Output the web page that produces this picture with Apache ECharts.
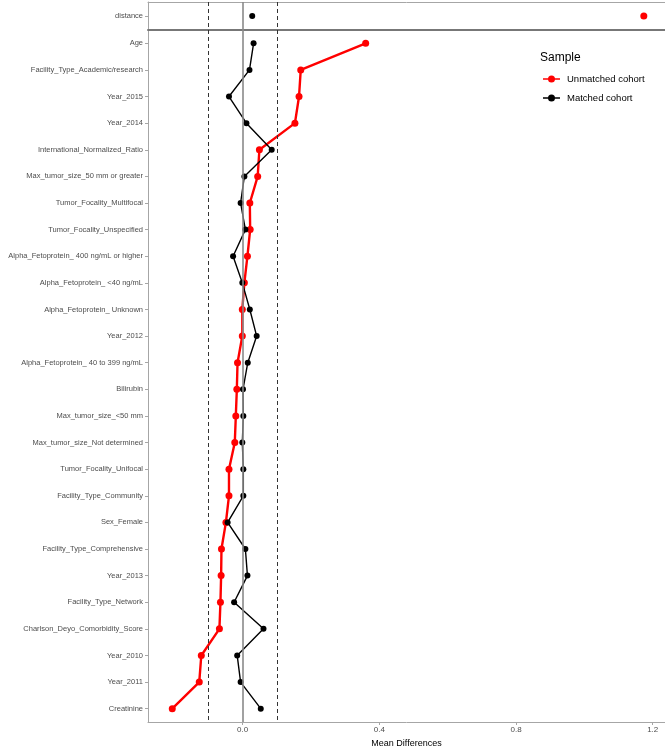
<!DOCTYPE html>
<html>
<head>
<meta charset="utf-8">
<script src="https://cdn.jsdelivr.net/npm/echarts@6/dist/echarts.min.js"></script>
<style>
  html, body { margin: 0; padding: 0; background: #fff; }
  #chart { width: 665px; height: 753px; }
</style>
</head>
<body>
<div id="chart"></div>
<script>
// Covariates, listed top to bottom
const covariates = [
  'Age',
  'Facility_Type_Academic/research',
  'Year_2015',
  'Year_2014',
  'International_Normalized_Ratio',
  'Max_tumor_size_50 mm or greater',
  'Tumor_Focality_Multifocal',
  'Tumor_Focality_Unspecified',
  'Alpha_Fetoprotein_ 400 ng/mL or higher',
  'Alpha_Fetoprotein_ <40 ng/mL',
  'Alpha_Fetoprotein_ Unknown',
  'Year_2012',
  'Alpha_Fetoprotein_ 40 to 399 ng/mL',
  'Bilirubin',
  'Max_tumor_size_<50 mm',
  'Max_tumor_size_Not determined',
  'Tumor_Focality_Unifocal',
  'Facility_Type_Community',
  'Sex_Female',
  'Facility_Type_Comprehensive',
  'Year_2013',
  'Facility_Type_Network',
  'Charlson_Deyo_Comorbidity_Score',
  'Year_2010',
  'Year_2011',
  'Creatinine'
];

// Mean differences before matching
const unmatched = [
  0.360, 0.170, 0.165, 0.153, 0.049, 0.044, 0.021, 0.022, 0.014, 0.005,
  -0.001, -0.001, -0.015, -0.017, -0.020, -0.023, -0.040, -0.040, -0.049,
  -0.062, -0.063, -0.065, -0.068, -0.121, -0.127, -0.206
];

// Mean differences after matching
const matched = [
  0.032, 0.020, -0.040, 0.011, 0.085, 0.005, -0.006, 0.008, -0.028, -0.001,
  0.021, 0.041, 0.015, 0.001, 0.002, -0.001, 0.002, 0.002, -0.044,
  0.008, 0.014, -0.025, 0.061, -0.016, -0.006, 0.053
];

// Propensity score distance row
const distanceLabel = ['distance'];
const distanceUnmatched = [1.174];
const distanceMatched = [0.028];

const xTicks = [0, 0.4, 0.8, 1.2];
const threshold = 0.1;

const xMin = -0.277, xMax = 1.236;
const RED = '#ff0000', BLACK = '#000000';
const AXIS_GREY = '#a6a6a6';
const LABEL_GREY = '#4d4d4d';
const FONT = 'Liberation Sans, Arial, sans-serif';

function refLines() {
  return {
    silent: true,
    symbol: 'none',
    label: { show: false },
    animation: false,
    data: [
      { xAxis: -threshold, lineStyle: { color: '#333', type: [4, 3], width: 1 } },
      { xAxis: threshold, lineStyle: { color: '#333', type: [4, 3], width: 1 } },
      { xAxis: 0, lineStyle: { color: '#8a8a8a', type: 'solid', width: 1.6 } }
    ]
  };
}

// Legend key: short line with a point in the middle
const legendIcon = 'path://M0,4.2L17,4.2L17,5.8L0,5.8Z M5,5a3.5,3.5 0 1,1 7,0a3.5,3.5 0 1,1 -7,0Z';

const chart = echarts.init(document.getElementById('chart'), null, { renderer: 'canvas' });

chart.setOption({
  animation: false,
  backgroundColor: '#ffffff',
  title: {
    text: 'Sample',
    left: 540,
    top: 52,
    padding: 0,
    textStyle: { fontFamily: FONT, fontSize: 12, fontWeight: 'normal', color: '#000' }
  },
  legend: {
    orient: 'vertical',
    left: 543,
    top: 74,
    padding: 0,
    itemWidth: 17,
    itemHeight: 10,
    itemGap: 9,
    data: [
      { name: 'Unmatched cohort', icon: legendIcon, itemStyle: { color: RED, opacity: 1 } },
      { name: 'Matched cohort', icon: legendIcon, itemStyle: { color: BLACK, opacity: 1 } }
    ],
    textStyle: { fontFamily: FONT, fontSize: 9.5, color: '#000', padding: [0, 0, 0, 2] }
  },
  grid: [
    { left: 148, right: 0, top: 2, height: 28 },
    { left: 148, right: 0, top: 30, bottom: 31 }
  ],
  xAxis: [
    {
      gridIndex: 0, type: 'value', min: xMin, max: xMax, position: 'top',
      axisLine: { show: true, onZero: false, lineStyle: { color: AXIS_GREY, width: 1 } },
      axisTick: { show: false },
      axisLabel: { show: false }, splitLine: { show: false }
    },
    {
      gridIndex: 1, type: 'value', min: xMin, max: xMax, position: 'bottom',
      name: 'Mean Differences', nameLocation: 'middle', nameGap: 15,
      nameTextStyle: { fontFamily: FONT, fontSize: 9, color: '#000' },
      axisLine: { show: true, onZero: false, lineStyle: { color: AXIS_GREY, width: 1 } },
      axisTick: { show: true, length: 3, lineStyle: { color: AXIS_GREY }, customValues: xTicks },
      axisLabel: {
        show: true, margin: 4, customValues: xTicks,
        formatter: v => v.toFixed(1),
        fontFamily: FONT, fontSize: 8, color: LABEL_GREY
      },
      splitLine: { show: false }
    },
    {
      // separator between the distance row and the covariates
      gridIndex: 0, type: 'value', min: xMin, max: xMax, position: 'bottom',
      axisLine: { show: true, onZero: false, lineStyle: { color: '#777777', width: 2 } },
      axisTick: { show: false },
      axisLabel: { show: false }, splitLine: { show: false }
    }
  ],
  yAxis: [
    {
      gridIndex: 0, type: 'category', data: distanceLabel, inverse: true,
      axisLine: { show: true, onZero: false, lineStyle: { color: AXIS_GREY } },
      axisTick: { show: true, alignWithLabel: true, length: 3, lineStyle: { color: AXIS_GREY } },
      axisLabel: { margin: 5, fontFamily: FONT, fontSize: 7.5, color: LABEL_GREY },
      splitLine: { show: false }
    },
    {
      gridIndex: 1, type: 'category', data: covariates, inverse: true,
      axisLine: { show: true, onZero: false, lineStyle: { color: AXIS_GREY } },
      axisTick: { show: true, alignWithLabel: true, length: 3, lineStyle: { color: AXIS_GREY } },
      axisLabel: { margin: 5, interval: 0, fontFamily: FONT, fontSize: 7.5, color: LABEL_GREY },
      splitLine: { show: false }
    }
  ],
  series: [
    {
      name: 'Unmatched cohort', type: 'scatter', xAxisIndex: 0, yAxisIndex: 0,
      data: distanceUnmatched.map((v, i) => [v, distanceLabel[i]]),
      symbol: 'circle', symbolSize: 7, itemStyle: { color: RED, opacity: 1 }
    },
    {
      name: 'Matched cohort', type: 'scatter', xAxisIndex: 0, yAxisIndex: 0,
      data: distanceMatched.map((v, i) => [v, distanceLabel[i]]),
      symbol: 'circle', symbolSize: 6, itemStyle: { color: BLACK, opacity: 1 },
      markLine: refLines()
    },
    {
      name: 'Unmatched cohort', type: 'line', xAxisIndex: 1, yAxisIndex: 1,
      data: unmatched.map((v, i) => [v, covariates[i]]),
      symbol: 'circle', symbolSize: 7, showSymbol: true,
      lineStyle: { color: RED, width: 2.4 }, itemStyle: { color: RED },
      markLine: refLines()
    },
    {
      name: 'Matched cohort', type: 'line', xAxisIndex: 1, yAxisIndex: 1,
      data: matched.map((v, i) => [v, covariates[i]]),
      symbol: 'circle', symbolSize: 6, showSymbol: true,
      lineStyle: { color: BLACK, width: 1.4 }, itemStyle: { color: BLACK }
    }
  ]
});
</script>
</body>
</html>
